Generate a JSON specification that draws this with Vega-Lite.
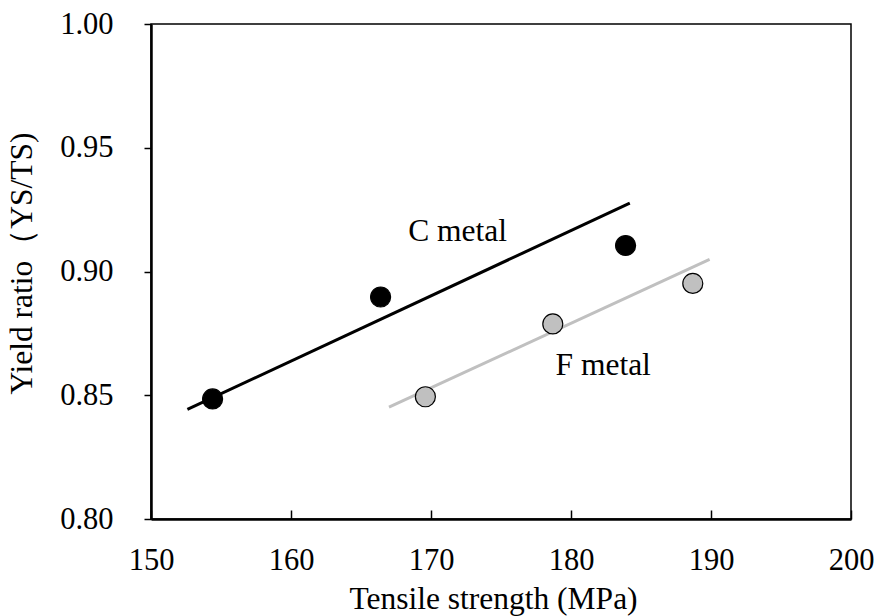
{
  "$schema": "https://vega.github.io/schema/vega-lite/v6.json",
  "width": 700,
  "height": 495,
  "autosize": {"type": "none"},
  "padding": {"left": 151, "top": 24, "right": 27, "bottom": 97},
  "background": "white",
  "config": {
    "view": {"stroke": "#000", "strokeWidth": 1.5},
    "font": "Liberation Serif",
    "axis": {
      "grid": false,
      "domainColor": "#000",
      "domainWidth": 2.5,
      "tickColor": "#000",
      "tickWidth": 1.5,
      "labelFont": "Liberation Serif",
      "labelFontSize": 30.5,
      "labelColor": "#000",
      "titleFont": "Liberation Serif",
      "titleFontSize": 31.5,
      "titleFontWeight": "normal",
      "titleColor": "#000"
    }
  },
  "datasets": {
    "points": [
      {"ts": 154.4, "yr": 0.8485, "metal": "C"},
      {"ts": 166.4, "yr": 0.8897, "metal": "C"},
      {"ts": 183.9, "yr": 0.9105, "metal": "C"},
      {"ts": 169.6, "yr": 0.8494, "metal": "F"},
      {"ts": 178.7, "yr": 0.8788, "metal": "F"},
      {"ts": 188.7, "yr": 0.8952, "metal": "F"}
    ],
    "lines": [
      {"ts": 152.6, "yr": 0.8443, "metal": "C"},
      {"ts": 184.2, "yr": 0.9276, "metal": "C"},
      {"ts": 167.0, "yr": 0.8452, "metal": "F"},
      {"ts": 189.9, "yr": 0.9049, "metal": "F"}
    ],
    "labels": [
      {"ts": 171.9, "yr": 0.916, "text": "C metal"},
      {"ts": 182.3, "yr": 0.862, "text": "F metal"}
    ]
  },
  "encoding": {
    "x": {
      "field": "ts", "type": "quantitative",
      "scale": {"domain": [150, 200], "nice": false, "zero": false},
      "axis": {"title": "Tensile strength (MPa)", "values": [150, 160, 170, 180, 190, 200], "tickSize": -9, "labelPadding": 35, "titlePadding": 8, "titleX": 342, "labelFlush": false}
    },
    "y": {
      "field": "yr", "type": "quantitative",
      "scale": {"domain": [0.8, 1.0], "nice": false, "zero": false},
      "axis": {"title": "Yield ratio（YS/TS)", "values": [0.8, 0.85, 0.9, 0.95, 1.0], "format": ".2f", "tickSize": 7, "labelPadding": 31, "titlePadding": 21, "titleY": 239, "labelFlush": false}
    }
  },
  "layer": [
    {
      "data": {"name": "lines"},
      "mark": {"type": "line", "strokeWidth": 3},
      "encoding": {
        "detail": {"field": "metal"},
        "color": {"field": "metal", "type": "nominal", "scale": {"domain": ["C", "F"], "range": ["#000000", "#c0c0c0"]}, "legend": null}
      }
    },
    {
      "data": {"name": "points"},
      "mark": {"type": "point", "filled": true, "shape": "circle", "size": 400, "opacity": 1, "stroke": "#000", "strokeWidth": 1.2},
      "encoding": {
        "fill": {"field": "metal", "type": "nominal", "scale": {"domain": ["C", "F"], "range": ["#000000", "#c0c0c0"]}, "legend": null}
      }
    },
    {
      "data": {"name": "labels"},
      "mark": {"type": "text", "font": "Liberation Serif", "fontSize": 31.5, "color": "#000", "align": "center", "baseline": "middle"},
      "encoding": {"text": {"field": "text"}}
    }
  ]
}
